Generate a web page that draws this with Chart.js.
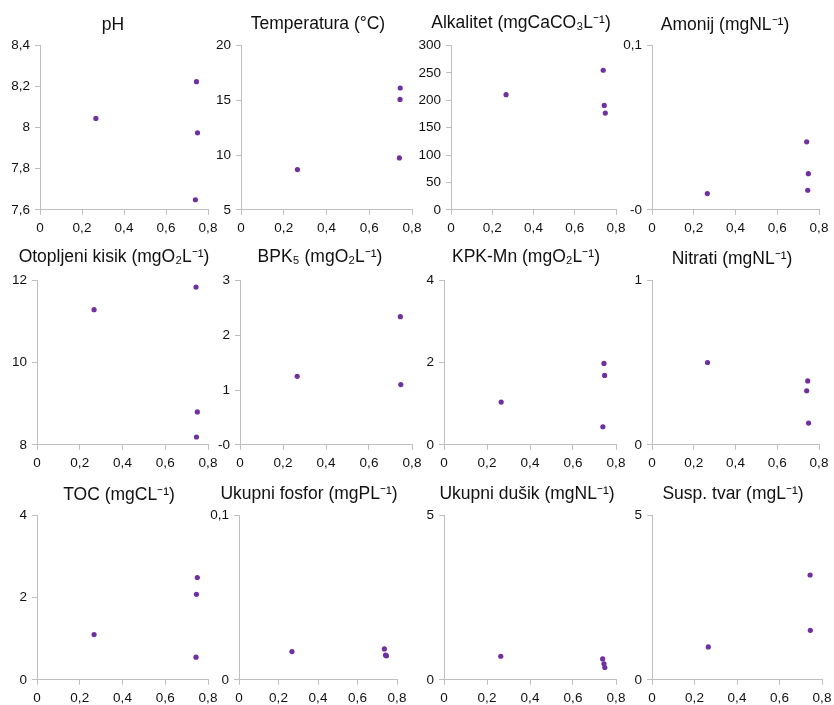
<!DOCTYPE html>
<html>
<head>
<meta charset="utf-8">
<script src="https://cdn.jsdelivr.net/npm/chart.js@4.4.0/dist/chart.umd.min.js"></script>
<style>
    body { margin: 0; background: #ffffff; }
    #wrap { position: relative; width: 834px; height: 705px; overflow: hidden; }
    #wrap canvas { position: absolute; }
</style>
</head>
<body>
<div id="wrap"></div>
<script>
// Shared x axis ticks
const xTickVals = [0, 0.2, 0.4, 0.6, 0.8];
const xTickLabels = ['0', '0,2', '0,4', '0,6', '0,8'];

// pH
const phX = [0.266, 0.745, 0.750, 0.740];
const phY = [8.045, 8.224, 7.975, 7.649];
const phTicks = [7.6, 7.8, 8, 8.2, 8.4];
const phTickLabels = ['7,6', '7,8', '8', '8,2', '8,4'];

// Temperatura
const tempX = [0.264, 0.745, 0.744, 0.741];
const tempY = [8.67, 16.12, 15.08, 9.74];
const tempTicks = [5, 10, 15, 20];
const tempTickLabels = ['5', '10', '15', '20'];

// Alkalitet
const alkX = [0.267, 0.738, 0.743, 0.748];
const alkY = [210.2, 254.8, 190.6, 176.6];
const alkTicks = [0, 50, 100, 150, 200, 250, 300];
const alkTickLabels = ['0', '50', '100', '150', '200', '250', '300'];

// Amonij
const amonX = [0.265, 0.741, 0.749, 0.746];
const amonY = [0.0099, 0.0414, 0.022, 0.0119];
const amonTicks = [0, 0.1];
const amonTickLabels = ['-0', '0,1'];

// Otopljeni kisik
const kisikX = [0.267, 0.744, 0.750, 0.746];
const kisikY = [11.29, 11.84, 8.80, 8.19];
const kisikTicks = [8, 10, 12];
const kisikTickLabels = ['8', '10', '12'];

// BPK5
const bpkX = [0.266, 0.746, 0.748];
const bpkY = [1.25, 2.34, 1.10];
const bpkTicks = [0, 1, 2, 3];
const bpkTickLabels = ['-0', '1', '2', '3'];

// KPK-Mn
const kpkX = [0.266, 0.744, 0.747, 0.739];
const kpkY = [1.04, 1.98, 1.69, 0.44];
const kpkTicks = [0, 2, 4];
const kpkTickLabels = ['0', '2', '4'];

// Nitrati
const nitX = [0.266, 0.746, 0.741, 0.750];
const nitY = [0.501, 0.389, 0.329, 0.132];
const nitTicks = [0, 1];
const nitTickLabels = ['0', '1'];

// TOC
const tocX = [0.267, 0.750, 0.746, 0.744];
const tocY = [1.10, 2.49, 2.08, 0.55];
const tocTicks = [0, 2, 4];
const tocTickLabels = ['0', '2', '4'];

// Ukupni fosfor
const fosX = [0.268, 0.736, 0.742, 0.747];
const fosY = [0.0172, 0.0188, 0.015, 0.0146];
const fosTicks = [0, 0.1];
const fosTickLabels = ['0', '0,1'];

// Ukupni dušik
const dusX = [0.264, 0.738, 0.744, 0.748];
const dusY = [0.717, 0.636, 0.485, 0.374];
const dusTicks = [0, 5];
const dusTickLabels = ['0', '5'];

// Susp. tvar
const suspX = [0.265, 0.744, 0.745];
const suspY = [1.0, 3.19, 1.505];
const suspTicks = [0, 5];
const suspTickLabels = ['0', '5'];

const titles = [
    'pH', 'Temperatura (°C)', 'Alkalitet (mgCaCO₃L⁻¹)', 'Amonij (mgNL⁻¹)',
    'Otopljeni kisik (mgO₂L⁻¹)', 'BPK₅ (mgO₂L⁻¹)', 'KPK-Mn (mgO₂L⁻¹)', 'Nitrati (mgNL⁻¹)',
    'TOC (mgCL⁻¹)', 'Ukupni fosfor (mgPL⁻¹)', 'Ukupni dušik (mgNL⁻¹)', 'Susp. tvar (mgL⁻¹)'
];

// Panels: data + where they sit on the page (axis line x, plot right x, row top, title centre)
var panels = [
    { xs: phX, ys: phY, ticks: phTicks, labels: phTickLabels, axisX: 40, right: 208, top: 0, titleX: 113, titleY: 25 },
    { xs: tempX, ys: tempY, ticks: tempTicks, labels: tempTickLabels, axisX: 241, right: 412, top: 0, titleX: 318, titleY: 24 },
    { xs: alkX, ys: alkY, ticks: alkTicks, labels: alkTickLabels, axisX: 451, right: 616, top: 0, titleX: 521, titleY: 23 },
    { xs: amonX, ys: amonY, ticks: amonTicks, labels: amonTickLabels, axisX: 652, right: 819, top: 0, titleX: 725, titleY: 25 },
    { xs: kisikX, ys: kisikY, ticks: kisikTicks, labels: kisikTickLabels, axisX: 37, right: 208, top: 235, titleX: 114, titleY: 22 },
    { xs: bpkX, ys: bpkY, ticks: bpkTicks, labels: bpkTickLabels, axisX: 240, right: 412, top: 235, titleX: 320, titleY: 22 },
    { xs: kpkX, ys: kpkY, ticks: kpkTicks, labels: kpkTickLabels, axisX: 444, right: 616, top: 235, titleX: 526, titleY: 22 },
    { xs: nitX, ys: nitY, ticks: nitTicks, labels: nitTickLabels, axisX: 652, right: 819, top: 235, titleX: 732, titleY: 24 },
    { xs: tocX, ys: tocY, ticks: tocTicks, labels: tocTickLabels, axisX: 37, right: 208, top: 470, titleX: 119, titleY: 25 },
    { xs: fosX, ys: fosY, ticks: fosTicks, labels: fosTickLabels, axisX: 239, right: 397, top: 470, titleX: 309, titleY: 24 },
    { xs: dusX, ys: dusY, ticks: dusTicks, labels: dusTickLabels, axisX: 444, right: 616, top: 470, titleX: 527, titleY: 24 },
    { xs: suspX, ys: suspY, ticks: suspTicks, labels: suspTickLabels, axisX: 652, right: 822, top: 470, titleX: 733, titleY: 24 }
];

const FONT = "'Liberation Sans', Arial, sans-serif";
const AXIS_GRAY = '#bfbfbf';
const TEXT = '#111111';
const DOT = '#7030a0';
const RIGHT_PAD = 11;

// Function to create one small scatter panel
function createPanel(p, title) {
    // canvas is placed so the title (centred on the canvas) lands on titleX
    var left = 2 * p.titleX - p.right - RIGHT_PAD;
    var yWidth = p.axisX - left;
    var width = p.right + RIGHT_PAD - left;
    var canvas = document.createElement('canvas');
    canvas.width = width;
    canvas.height = 241;
    canvas.style.left = left + 'px';
    canvas.style.top = p.top + 'px';
    document.getElementById('wrap').appendChild(canvas);

    var titleSize = 17.5;
    var padTop = p.titleY - titleSize * 0.6;
    var padBottom = 45.5 - padTop - titleSize * 1.2;

    new Chart(canvas.getContext('2d'), {
        type: 'scatter',
        data: {
            datasets: [{
                data: p.xs.map((x, i) => ({ x: x, y: p.ys[i] })),
                backgroundColor: DOT,
                borderWidth: 0,
                pointRadius: 2.6
            }]
        },
        options: {
            responsive: false,
            animation: false,
            layout: { padding: 0 },
            plugins: {
                legend: { display: false },
                tooltip: { enabled: false },
                title: {
                    display: true,
                    text: title,
                    color: TEXT,
                    font: { family: FONT, size: titleSize, weight: 'normal' },
                    padding: { top: padTop, bottom: padBottom }
                }
            },
            scales: {
                x: {
                    type: 'linear',
                    min: 0,
                    max: 0.8,
                    afterBuildTicks: s => { s.ticks = xTickVals.map(v => ({ value: v })); },
                    afterFit: s => { s.paddingLeft = 0; s.paddingRight = RIGHT_PAD; },
                    ticks: {
                        callback: (v, i) => xTickLabels[i],
                        color: TEXT,
                        font: { family: FONT, size: 13.5 },
                        padding: 5,
                        maxRotation: 0,
                        autoSkip: false
                    },
                    grid: { drawOnChartArea: false, drawTicks: true, tickLength: 5, color: AXIS_GRAY },
                    border: { color: AXIS_GRAY, width: 1 }
                },
                y: {
                    type: 'linear',
                    min: p.ticks[0],
                    max: p.ticks[p.ticks.length - 1],
                    afterBuildTicks: s => { s.ticks = p.ticks.map(v => ({ value: v })); },
                    afterFit: s => { s.width = yWidth; },
                    ticks: {
                        callback: (v, i) => p.labels[i],
                        color: TEXT,
                        font: { family: FONT, size: 13.5 },
                        padding: 5,
                        autoSkip: false
                    },
                    grid: { drawOnChartArea: false, drawTicks: true, tickLength: 5, color: AXIS_GRAY },
                    border: { color: AXIS_GRAY, width: 1 }
                }
            }
        }
    });
}

panels.forEach((p, i) => createPanel(p, titles[i]));
</script>
</body>
</html>
